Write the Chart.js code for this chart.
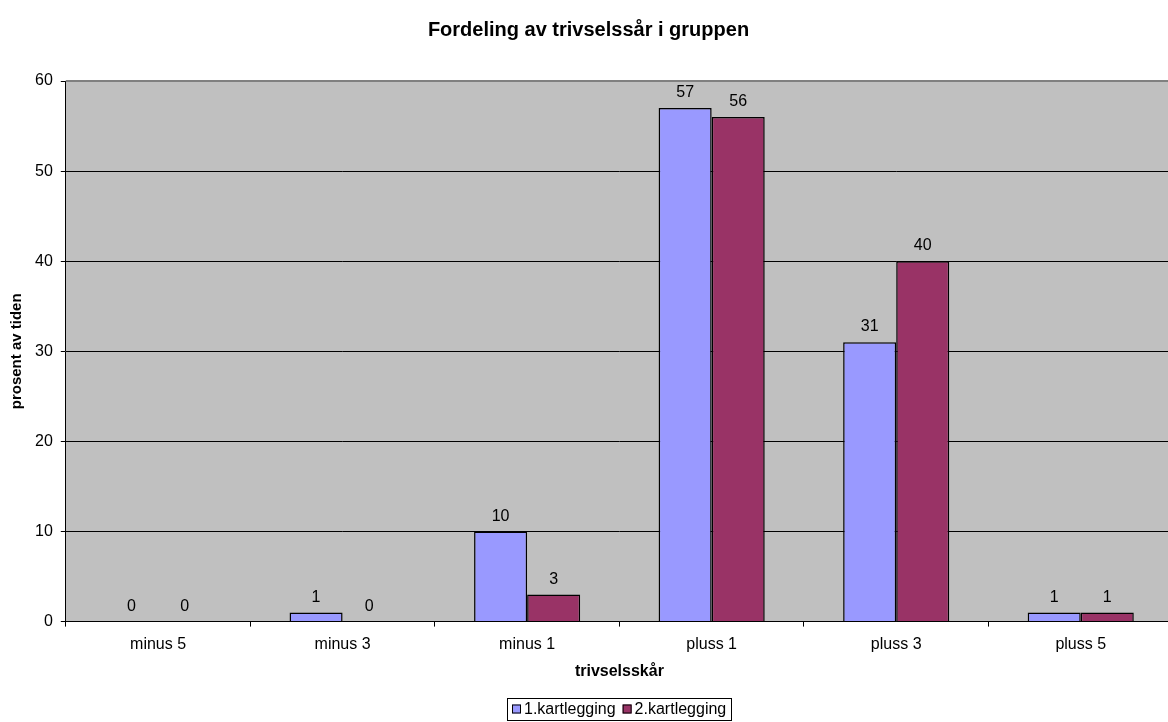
<!DOCTYPE html>
<html>
<head>
<meta charset="utf-8">
<script src="https://cdn.jsdelivr.net/npm/chart.js@4"></script>
<style>
  html, body { margin: 0; padding: 0; background: #fff; overflow: hidden; }
  #wrap { width: 1175px; height: 722px; }
</style>
</head>
<body>
<div id="wrap"><canvas id="cTrivsel"></canvas></div>
<script>
const kategorier = ['minus 5', 'minus 3', 'minus 1', 'pluss 1', 'pluss 3', 'pluss 5'];
const kartlegging1 = [0, 1, 10, 57, 31, 1];
const kartlegging2 = [0, 0, 3, 56, 40, 1];
const yTicks = [0, 10, 20, 30, 40, 50, 60];

const FONT = "'Liberation Sans', Arial, sans-serif";

// grå bakgrunn i plotområdet + grå ramme oppe/høyre
const plotBg = {
  id: 'plotBg',
  beforeDraw(chart) {
    const { ctx, chartArea: a } = chart;
    ctx.save();
    ctx.fillStyle = '#C0C0C0';
    ctx.fillRect(a.left, a.top, a.right - a.left, a.bottom - a.top);
    ctx.restore();
  },
  afterDraw(chart) {
    const { ctx, chartArea: a } = chart;
    ctx.save();
    ctx.strokeStyle = '#808080';
    ctx.lineWidth = 2;
    ctx.beginPath();
    ctx.moveTo(a.left, a.top);
    ctx.lineTo(a.right, a.top);
    ctx.lineTo(a.right, a.bottom);
    ctx.stroke();
    ctx.restore();
  }
};

// verdier over søylene
const verdier = {
  id: 'verdier',
  afterDatasetsDraw(chart) {
    const { ctx } = chart;
    ctx.save();
    ctx.font = '16px ' + FONT;
    ctx.fillStyle = '#000';
    ctx.textAlign = 'center';
    ctx.textBaseline = 'alphabetic';
    chart.data.datasets.forEach((ds, i) => {
      chart.getDatasetMeta(i).data.forEach((bar, j) => {
        ctx.fillText(String(ds.data[j]), bar.x, bar.y - 11);
      });
    });
    ctx.restore();
  }
};

// egen forklaring med ramme, sentrert under plotområdet
const forklaring = {
  id: 'forklaring',
  afterDraw(chart) {
    const { ctx, chartArea: a } = chart;
    const sq = 9, gapTxt = 3, gapItem = 7, pad = 5, h = 22;
    ctx.save();
    ctx.font = '16px ' + FONT;
    const items = chart.data.datasets.map(ds => ({ label: ds.label, color: ds.backgroundColor, w: ctx.measureText(ds.label).width }));
    const total = pad * 2 + items.reduce((s, it) => s + sq + gapTxt + it.w, 0) + gapItem * (items.length - 1);
    const x0 = Math.round((a.left + a.right) / 2 - total / 2);
    const y0 = chart.height - 2 - h;
    ctx.strokeStyle = '#000';
    ctx.lineWidth = 1;
    ctx.strokeRect(x0 + 0.5, y0 + 0.5, Math.round(total), h);
    let x = x0 + pad;
    const cy = y0 + h / 2 + 1;
    items.forEach(it => {
      ctx.fillStyle = it.color;
      ctx.fillRect(x, cy - sq / 2 - 1, sq, sq);
      ctx.strokeRect(x + 0.5, cy - sq / 2 - 0.5, sq - 1, sq - 1);
      x += sq + gapTxt;
      ctx.fillStyle = '#000';
      ctx.textBaseline = 'middle';
      ctx.fillText(it.label, x, cy);
      x += it.w + gapItem;
    });
    ctx.restore();
  }
};

new Chart(document.getElementById('cTrivsel'), {
  type: 'bar',
  data: {
    labels: kategorier,
    datasets: [
      { label: '1.kartlegging', data: kartlegging1, backgroundColor: '#9999FF', borderColor: '#000', borderWidth: 1.5, categoryPercentage: 0.575, barPercentage: 1 },
      { label: '2.kartlegging', data: kartlegging2, backgroundColor: '#993366', borderColor: '#000', borderWidth: 1.5, categoryPercentage: 0.575, barPercentage: 1 },
    ],
  },
  options: {
    responsive: true, maintainAspectRatio: false, animation: false,
    layout: { padding: { left: 4, right: 2, top: 0, bottom: 41 } },
    plugins: {
      title: { display: true, text: 'Fordeling av trivselssår i gruppen', color: '#000', font: { family: FONT, size: 20, weight: 'bold' }, padding: { top: 18, bottom: 39 } },
      legend: { display: false },
      tooltip: { enabled: false },
    },
    scales: {
      x: {
        grid: { display: true, drawOnChartArea: false, drawTicks: true, tickLength: 5, color: '#000', offset: true },
        border: { display: true, color: '#000', width: 1 },
        ticks: { color: '#000', font: { family: FONT, size: 16 }, padding: 8 },
        title: { display: true, text: 'trivselsskår', color: '#000', font: { family: FONT, size: 16, weight: 'bold' }, padding: { top: 0, bottom: 0 } },
      },
      y: {
        min: 0, max: 60,
        afterBuildTicks: s => { s.ticks = yTicks.map(v => ({ value: v })); },
        grid: { color: '#000', lineWidth: 1, tickLength: 5, drawTicks: true },
        border: { display: true, color: '#000', width: 1 },
        ticks: { color: '#000', font: { family: FONT, size: 16 }, padding: 8 },
        title: { display: true, text: 'prosent av tiden', color: '#000', font: { family: FONT, size: 15, weight: 'bold' }, padding: { top: 4, bottom: 1 } },
      },
    },
  },
  plugins: [plotBg, verdier, forklaring],
});
</script>
</body>
</html>
